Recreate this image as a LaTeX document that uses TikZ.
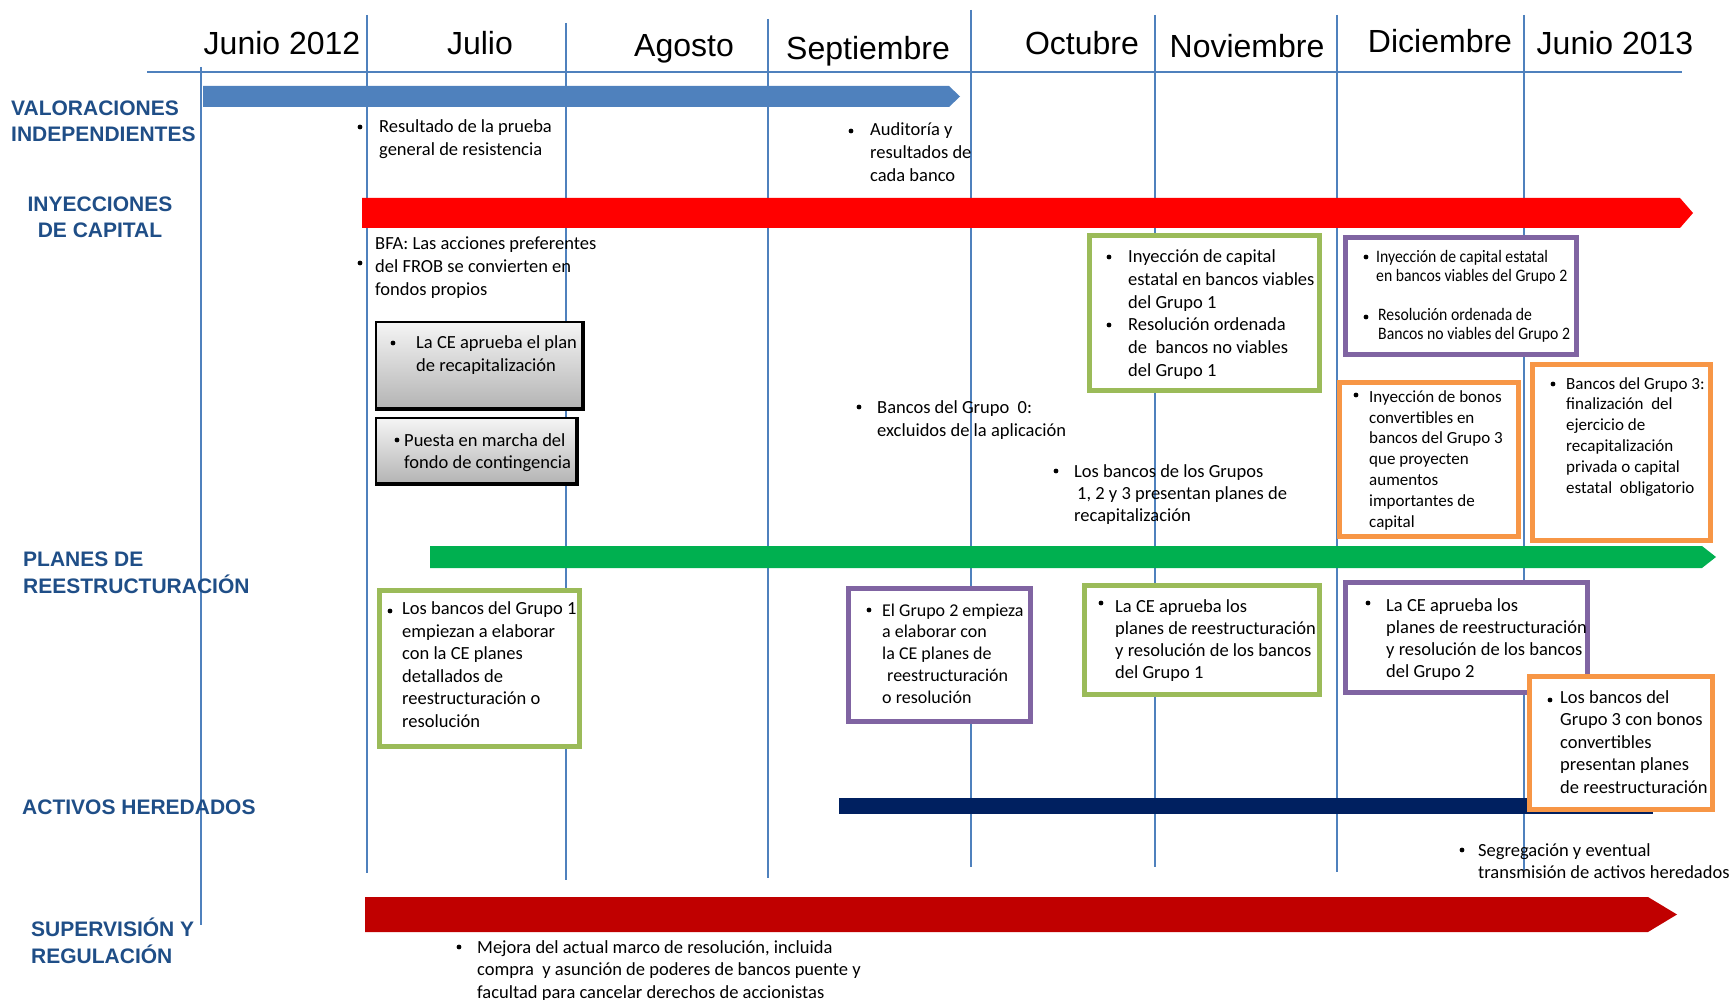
\documentclass[tikz,border=0pt]{standalone}
\usepackage{fontspec}
\setmainfont{Carlito}
\newfontfamily\hdfont{Liberation Sans}
\newfontfamily\narrowfont{Carlito}[FakeStretch=0.9]
\usetikzlibrary{calc}
\definecolor{lineblue}{RGB}{79,129,189}
\definecolor{labelblue}{RGB}{31,78,135}
\definecolor{barblue}{RGB}{79,129,189}
\definecolor{barred}{RGB}{255,0,0}
\definecolor{bargreen}{RGB}{0,176,80}
\definecolor{barnavy}{RGB}{0,32,96}
\definecolor{bardarkred}{RGB}{192,0,0}
\definecolor{boxgreen}{RGB}{155,187,89}
\definecolor{boxpurple}{RGB}{128,100,162}
\definecolor{boxorange}{RGB}{247,150,70}
\newcommand{\monthline}[3]{\draw[gridline] (#1,#2) -- (#1,#3);}
\newcommand{\bul}[2]{\fill (#1,#2) circle (2.4);}
\newcommand{\timebar}[6]{\fill[#1] (#2,#3) -- (#4,#3) -- (#6,{(#3+#5)/2}) -- (#4,#5) -- (#2,#5) -- cycle;}
% text nodes sit on the baseline of their last line
\tikzset{
  gridline/.style={draw=lineblue, line width=1.6},
  month/.style={font=\hdfont\fontsize{32}{38}\selectfont, anchor=base, inner sep=0},
  rowlabel/.style={font=\hdfont\bfseries\fontsize{21}{26.5}\selectfont, text=labelblue, anchor=base west, align=left, inner sep=0},
  txt/.style={font=\fontsize{18.5}{23}\selectfont, anchor=base west, align=left, inner sep=0},
  stxt/.style={font=\fontsize{17}{20.8}\selectfont, anchor=base west, align=left, inner sep=0},
  ntxt/.style={font=\narrowfont\fontsize{17.5}{19}\selectfont, anchor=base west, align=left, inner sep=0},
  gbox/.style={draw=boxgreen, line width=4.5, fill=white},
  pbox/.style={draw=boxpurple, line width=4.5, fill=white},
  obox/.style={draw=boxorange, line width=4.5, fill=white},
  graybox/.style={draw=black, line width=1.5, top color=gray!8, bottom color=gray!60},
}
\begin{document}
\begin{tikzpicture}[x=1pt,y=-1pt]
\useasboundingbox (0,0) rectangle (1730,1000);
% month grid
\monthline{201}{67}{925}
\monthline{367}{15}{873}
\monthline{566}{23}{880}
\monthline{768}{19}{878}
\monthline{971}{10}{867}
\monthline{1155}{15}{867}
\monthline{1337}{15}{872}
\monthline{1524}{15}{870}
\draw[gridline, line width=2] (147,72) -- (1682,72);
% months
\node[month] (jun12) at (282,55) {Junio 2012};
\node[month] (jul) at (480,55) {Julio};
\node[month] (ago) at (684,57) {Agosto};
\node[month] (sep) at (868,60) {Septiembre};
\node[month] (oct) at (1082,55) {Octubre};
\node[month] (nov) at (1247,58) {Noviembre};
\node[month] (dic) at (1440,53) {Diciembre};
\node[month] (jun13) at (1615,55) {Junio 2013};
% bars
\timebar{barblue}{203}{86}{949}{107}{960}
\timebar{barred}{362}{198}{1680}{228}{1693}
\timebar{bargreen}{430}{546}{1702}{568}{1716}
\fill[barnavy] (839,798) rectangle (1653,814);
\timebar{bardarkred}{365}{897}{1648}{932}{1677}
% row labels
\node[rowlabel] (val) at (11,142) {VALORACIONES\\INDEPENDIENTES};
\node[rowlabel, align=center, anchor=base] (iny) at (100,238) {INYECCIONES\\DE CAPITAL};
\node[rowlabel] (pla) at (23,593) {PLANES DE\\REESTRUCTURACIÓN};
\node[rowlabel] (act) at (22,814) {ACTIVOS HEREDADOS};
\node[rowlabel] (sup) at (31,963) {SUPERVISIÓN Y\\REGULACIÓN};
% valoraciones
\bul{360}{127}
\node[txt] (prueba) at (379,156) {Resultado de la prueba\\general de resistencia};
\bul{851}{131}
\node[txt] (audit) at (870,182) {Auditoría y\\resultados de\\cada banco};
% inyecciones
\bul{360}{263}
\node[txt] (bfa) at (375,296) {BFA: Las acciones preferentes\\del FROB se convierten en\\fondos propios};
\draw[graybox] (376,322) rectangle (584,410);
\draw[line width=3.5] (377,408.5) -| (583,323);
\bul{393}{343}
\node[txt] (plan) at (416,371) {La CE aprueba el plan\\de recapitalización};
\draw[graybox] (376,418) rectangle (578,485);
\draw[line width=3.5] (377,483.5) -| (577,419);
\bul{397}{440}
\node[txt, font=\fontsize{18.5}{22}\selectfont] (fondo) at (404,468) {Puesta en marcha del\\fondo de contingencia};
\bul{859}{407}
\node[txt] (g0) at (877,436) {Bancos del Grupo~ 0:\\excluidos de la aplicación};
\bul{1056}{471}
\node[txt, font=\fontsize{18.5}{22}\selectfont] (g123) at (1074,521) {Los bancos de los Grupos\\\hspace*{3pt}1, 2 y 3 presentan planes de\\recapitalización};
\draw[gbox] (1089.5,235.5) rectangle (1319.5,390.5);
\bul{1109}{257}
\bul{1109}{325}
\node[txt] (cap1) at (1128,377) {Inyección de capital\\estatal en bancos viables\\del Grupo 1\\Resolución ordenada\\de~ bancos no viables\\del Grupo 1};
\draw[pbox] (1345.5,237.5) rectangle (1576.5,354.5);
\bul{1366}{257}
\bul{1366}{317}
\node[ntxt] (cap2) at (1376,282) {Inyección de capital estatal\\en bancos viables del Grupo 2};
\node[ntxt] (res2) at (1378,340) {Resolución ordenada de\\Bancos no viables del Grupo 2};
\draw[obox] (1339.5,382.5) rectangle (1518.5,536.5);
\bul{1356}{395}
\node[stxt] (bonos) at (1369,527) {Inyección de bonos\\convertibles en\\bancos del Grupo 3\\que proyecten\\aumentos\\importantes de\\capital};
\draw[obox] (1532.5,364.5) rectangle (1710.5,540.5);
\bul{1553}{384}
\node[stxt] (g3fin) at (1566,493) {Bancos del Grupo 3:\\finalización~ del\\ejercicio de\\recapitalización\\privada o capital\\estatal~ obligatorio};
% planes de reestructuracion
\draw[gbox] (379.5,590.5) rectangle (579.5,746.5);
\bul{390}{611}
\node[txt, font=\fontsize{18.5}{22.5}\selectfont] (g1plan) at (402,727) {Los bancos del Grupo 1\\empiezan a elaborar\\con la CE planes\\detallados de\\reestructuración o\\resolución};
\draw[pbox] (848.5,588.5) rectangle (1030.5,721.5);
\bul{869}{610}
\node[txt, font=\fontsize{18}{21.7}\selectfont] (g2plan) at (882,703) {El Grupo 2 empieza\\a elaborar con\\la CE planes de\\\hspace*{5pt}reestructuración\\o resolución};
\draw[gbox] (1084.5,585.5) rectangle (1319.5,694.5);
\bul{1101}{603}
\node[txt, font=\fontsize{18.5}{22}\selectfont] (g1ok) at (1115,678) {La CE aprueba los\\planes de reestructuración\\y resolución de los bancos\\del Grupo 1};
\draw[pbox] (1345.5,582.5) rectangle (1587.5,692.5);
\bul{1368}{603}
\node[txt, font=\fontsize{18.5}{22}\selectfont] (g2ok) at (1386,677) {La CE aprueba los\\planes de reestructuración\\y resolución de los bancos\\del Grupo 2};
\draw[obox] (1529.5,676.5) rectangle (1712.5,809.5);
\bul{1550}{700}
\node[txt, font=\fontsize{18.5}{22.5}\selectfont] (g3plan) at (1560,793) {Los bancos del\\Grupo 3 con bonos\\convertibles\\presentan planes\\de reestructuración};
% activos heredados
\bul{1462}{850}
\node[txt, font=\fontsize{18.5}{22}\selectfont] (segreg) at (1478,878) {Segregación y eventual\\transmisión de activos heredados};
% supervision
\bul{459}{947}
\node[txt, font=\fontsize{18.5}{22.5}\selectfont] (mejora) at (477,998) {Mejora del actual marco de resolución, incluida\\compra~ y asunción de poderes de bancos puente y\\facultad para cancelar derechos de accionistas};
\end{tikzpicture}
\end{document}
